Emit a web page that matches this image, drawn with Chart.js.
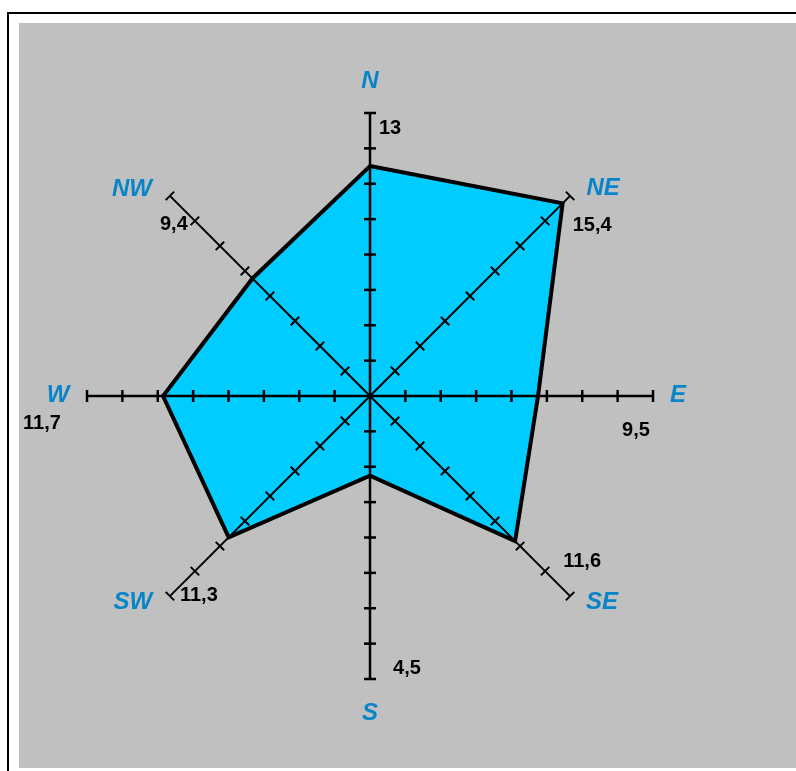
<!DOCTYPE html>
<html>
<head>
<meta charset="utf-8">
<script src="https://cdn.jsdelivr.net/npm/chart.js@4/dist/chart.umd.min.js"></script>
<style>
  html, body { margin: 0; padding: 0; width: 796px; height: 771px; overflow: hidden; background: #fff; }
  #frame { position: absolute; left: 7px; top: 12px; width: 900px; height: 900px; border: 2px solid #000; }
  #panel { position: absolute; left: 19px; top: 23px; width: 800px; height: 745px; background: #c0c0c0; }
  #windRose { position: absolute; left: 0; top: 26px; }
</style>
</head>
<body>
<div id="frame"></div>
<div id="panel"></div>
<canvas id="windRose" width="740" height="740"></canvas>
<script>
const directions = ['N', 'NE', 'E', 'SE', 'S', 'SW', 'W', 'NW'];
const speeds = [13, 15.4, 9.5, 11.6, 4.5, 11.3, 11.7, 9.4];
const axisMax = 16;
const tickStep = 2;

// label offsets from the end of each axis (px)
const dirOffsets = [[0, -32], [33, -8], [25, -1], [32, 6], [0, 34], [-37, 6], [-29, -1], [-38, -7]];
const valOffsets = [[20, 15], [22, 30], [-17, 34], [12, -35], [37, -11], [29, -1], [-45, 27], [4, 29]];

const compassPlugin = {
    id: 'compass',
    afterDatasetDraw(chart, args) {
        if (args.index !== 0) return;
        const ctx = chart.ctx;
        const r = chart.scales.r;
        ctx.save();
        ctx.strokeStyle = '#000';
        directions.forEach((d, i) => {
            const end = r.getPointPosition(i, r.getDistanceFromCenterForValue(axisMax));
            ctx.lineWidth = i % 2 ? 2 : 2.5;
            ctx.beginPath();
            ctx.moveTo(r.xCenter, r.yCenter);
            ctx.lineTo(end.x, end.y);
            ctx.stroke();
            const nx = -Math.sin(end.angle), ny = Math.cos(end.angle);
            for (let v = tickStep; v <= axisMax; v += tickStep) {
                const p = r.getPointPosition(i, r.getDistanceFromCenterForValue(v));
                ctx.beginPath();
                ctx.moveTo(p.x - nx * 6, p.y - ny * 6);
                ctx.lineTo(p.x + nx * 6, p.y + ny * 6);
                ctx.stroke();
            }
        });
        ctx.restore();
    },
    afterDraw(chart) {
        const ctx = chart.ctx;
        const r = chart.scales.r;
        ctx.save();
        ctx.textAlign = 'center';
        ctx.textBaseline = 'middle';
        directions.forEach((d, i) => {
            const end = r.getPointPosition(i, r.getDistanceFromCenterForValue(axisMax));
            ctx.font = 'italic bold 24px "Liberation Sans", Arial, sans-serif';
            ctx.fillStyle = '#0884c8';
            ctx.fillText(d, end.x + dirOffsets[i][0], end.y + dirOffsets[i][1]);
            ctx.font = 'bold 20px "Liberation Sans", Arial, sans-serif';
            ctx.fillStyle = '#000';
            ctx.fillText(String(speeds[i]).replace('.', ','), end.x + valOffsets[i][0], end.y + valOffsets[i][1]);
        });
        ctx.restore();
    }
};

new Chart(document.getElementById('windRose'), {
    type: 'radar',
    data: {
        labels: directions,
        datasets: [{
            data: speeds,
            backgroundColor: '#00ccff',
            borderWidth: 0,
            fill: true,
            pointRadius: 0,
            order: 2
        }, {
            data: speeds,
            borderColor: '#000',
            borderWidth: 4,
            fill: false,
            pointRadius: 0,
            order: 1
        }]
    },
    options: {
        responsive: false,
        animation: false,
        layout: { padding: 87 },
        plugins: {
            legend: { display: false },
            tooltip: { enabled: false }
        },
        scales: {
            r: {
                min: 0,
                max: axisMax,
                ticks: { display: false, stepSize: tickStep },
                grid: { display: false },
                angleLines: { display: false },
                pointLabels: { display: false }
            }
        }
    },
    plugins: [compassPlugin]
});
</script>
</body>
</html>
